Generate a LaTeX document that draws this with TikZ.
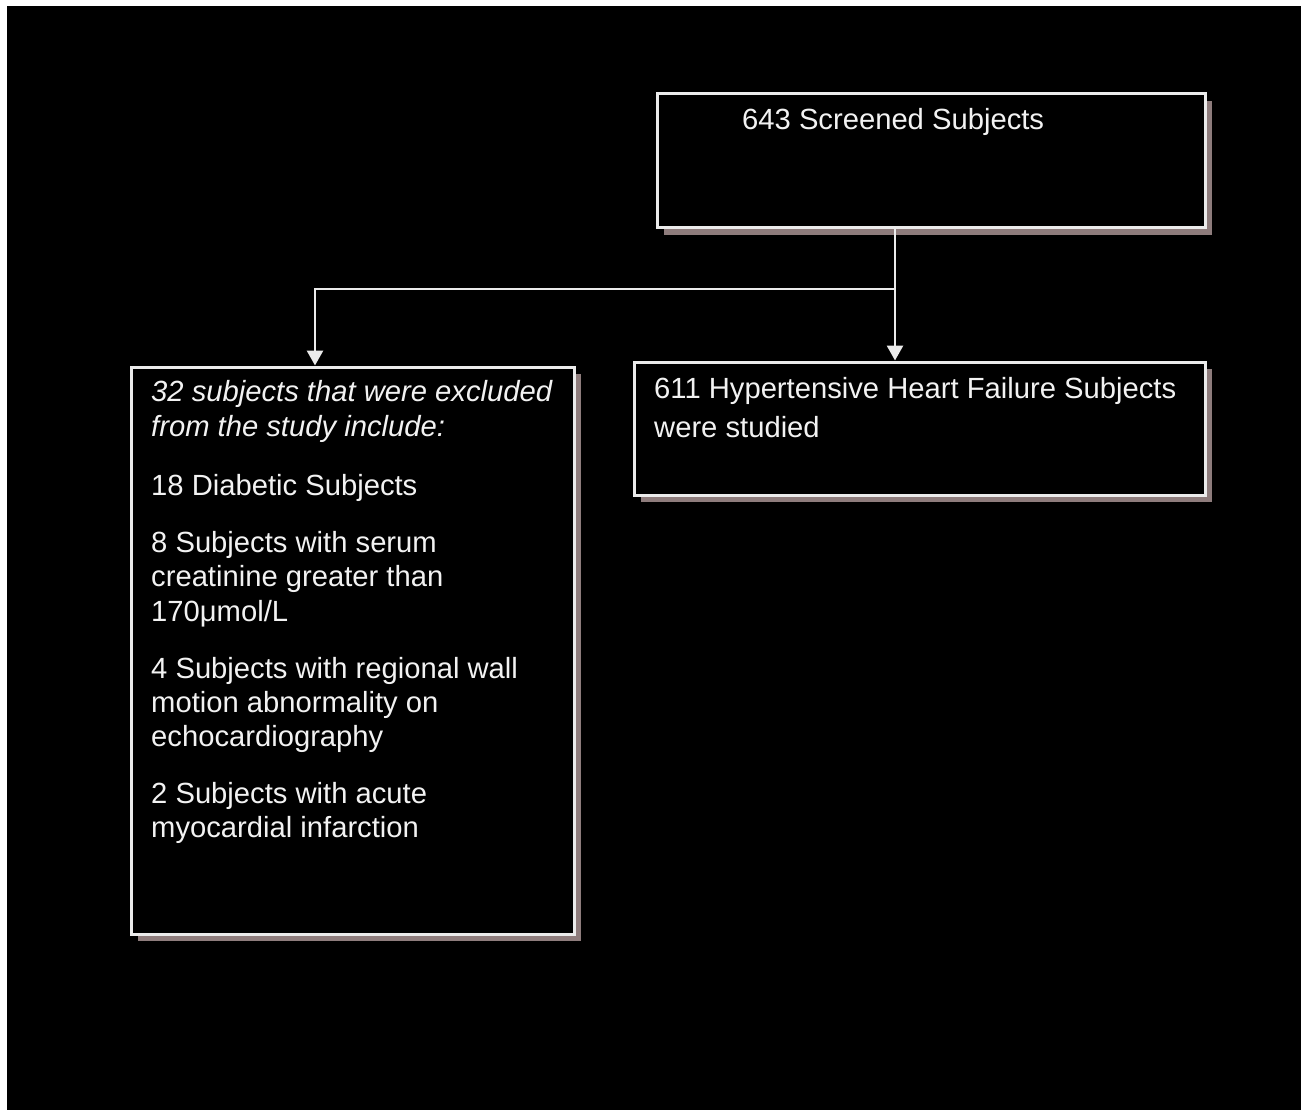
\documentclass[tikz,border=0pt]{standalone}
\usepackage{fontspec}
\setmainfont{Liberation Sans}
\usetikzlibrary{arrows.meta,shadows}
\definecolor{shadowc}{RGB}{142,124,124}
\definecolor{linec}{RGB}{235,235,235}
\definecolor{textc}{RGB}{242,242,242}
\begin{document}
\begin{tikzpicture}[x=1pt,y=-1pt,
  box/.style={draw=linec,line width=3pt,fill=black,inner sep=0pt,
    drop shadow={shadow xshift=7pt,shadow yshift=-7pt,fill=shadowc,opacity=1}},
  txt/.style={anchor=base west,inner sep=0pt,text=textc,
    font=\fontsize{29.2}{35}\selectfont},
  itxt/.style={txt,font=\fontsize{29.2}{35}\selectfont\itshape},
  arr/.style={draw=linec,line width=2.8pt,-{Triangle[width=16pt,length=15pt]}}]
\useasboundingbox (0,0) rectangle (1301,1110);
\fill[white] (0,0) rectangle (1301,1110);
\fill[black] (7,6) rectangle (1301,1110);
% boxes
\node[box,minimum width=548pt,minimum height=134pt] (top) at (931,161) {};
\node[box,minimum width=443pt,minimum height=567pt] (left) at (352.5,650.5) {};
\node[box,minimum width=571pt,minimum height=133pt] (right) at (919.5,428.5) {};
% texts
\node[txt] (t0) at (742,130) {643 Screened Subjects};
\node[txt] (r1) at (654,398) {611 Hypertensive Heart Failure Subjects};
\node[txt] (r2) at (654,437) {were studied};
\node[itxt] (l1) at (151,401) {32 subjects that were excluded};
\node[itxt] (l2) at (151,436) {from the study include:};
\node[txt] (l3) at (151,495) {18 Diabetic Subjects};
\node[txt] (l4) at (151,552) {8 Subjects with serum};
\node[txt] (l5) at (151,586) {creatinine greater than};
\node[txt] (l6) at (151,621) {170μmol/L};
\node[txt] (l7) at (151,678) {4 Subjects with regional wall};
\node[txt] (l8) at (151,712) {motion abnormality on};
\node[txt] (l9) at (151,746) {echocardiography};
\node[txt] (l10) at (151,803) {2 Subjects with acute};
\node[txt] (l11) at (151,837) {myocardial infarction};
% connectors
\coordinate (j) at (895,289);
\coordinate (k) at (315,289);
\draw[arr] (top.south -| j) -- (right.north -| j);
\draw[arr] (j) -- (k) -- (left.north -| k);
\end{tikzpicture}
\end{document}
